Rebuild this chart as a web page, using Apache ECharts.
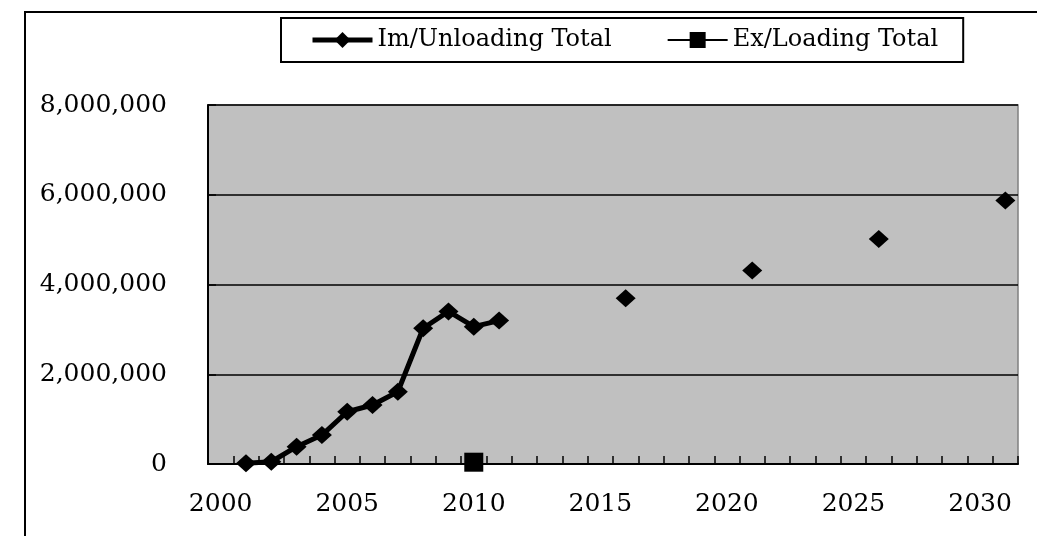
<!DOCTYPE html>
<html>
<head>
<meta charset="utf-8">
<script src="https://cdn.jsdelivr.net/npm/echarts@6/dist/echarts.min.js"></script>
<style>
html,body{margin:0;padding:0;background:#fff;}
#chart{width:1037px;height:536px;}
</style>
</head>
<body>
<div id="chart"></div>
<script>
// Category axis (years)
const categories = ['2000','2001','2002','2003','2004','2005','2006','2007','2008','2009','2010',
  '2011','2012','2013','2014','2015','2016','2017','2018','2019','2020','2021','2022','2023',
  '2024','2025','2026','2027','2028','2029','2030','2031'];

// Im/Unloading Total
const imYears  = ['2001','2002','2003','2004','2005','2006','2007','2008','2009','2010','2011','2016','2021','2026','2031'];
const imValues = [15000, 50000, 385000, 645000, 1165000, 1315000, 1610000, 3025000, 3400000, 3060000, 3195000, 3695000, 4310000, 5015000, 5870000];

// Ex/Loading Total
const exYears  = ['2010'];
const exValues = [40000];

const yTicks = [0, 2000000, 4000000, 6000000, 8000000];

function align(years, values) {
  return categories.map(c => {
    const i = years.indexOf(c);
    return i >= 0 ? values[i] : null;
  });
}

const FONT = 'DejaVu Serif';
const diamond = 'path://M0,-1L1,0L0,1L-1,0Z';

const chart = echarts.init(document.getElementById('chart'), null, {renderer: 'canvas'});
chart.setOption({
  animation: false,
  backgroundColor: '#ffffff',
  graphic: [{
    type: 'rect',
    shape: {x: 25, y: 12, width: 1100, height: 700},
    style: {fill: 'none', stroke: '#000', lineWidth: 2},
    silent: true, z: -1
  }],
  legend: {
    left: 281, top: 18,
    orient: 'horizontal',
    borderColor: '#000', borderWidth: 2,
    padding: [10, 25, 10, 29],
    itemGap: 55,
    itemWidth: 60, itemHeight: 20,
    textStyle: {fontFamily: FONT, fontSize: 24, color: '#000'},
    data: [
      {name: 'Im/Unloading Total', lineStyle: {width: 5, color: '#000'}},
      {name: 'Ex/Loading Total', lineStyle: {width: 2, color: '#000'}}
    ]
  },
  grid: {
    left: 208, right: 19, top: 105, bottom: 72,
    show: true, backgroundColor: '#C0C0C0', borderColor: '#808080', borderWidth: 1.5,
    containLabel: false
  },
  xAxis: {
    type: 'category',
    data: categories,
    boundaryGap: true,
    axisLine: {lineStyle: {color: '#000', width: 2}},
    axisTick: {show: true, inside: true, length: 8, interval: 0, alignWithLabel: false, lineStyle: {color: '#000', width: 1.5}},
    axisLabel: {interval: 4, margin: 28, fontFamily: FONT, fontSize: 25, color: '#000'},
    splitLine: {show: false}
  },
  yAxis: {
    type: 'value',
    min: yTicks[0], max: yTicks[yTicks.length - 1], interval: yTicks[1] - yTicks[0],
    axisLine: {show: true, lineStyle: {color: '#000', width: 2}},
    axisTick: {show: true, inside: true, length: 8, lineStyle: {color: '#000', width: 1.5}},
    axisLabel: {
      margin: 41, fontFamily: FONT, fontSize: 25, color: '#000',
      formatter: v => v.toLocaleString('en-US')
    },
    splitLine: {show: true, lineStyle: {color: '#000', width: 1.5}}
  },
  series: [
    {
      name: 'Im/Unloading Total',
      type: 'line',
      data: align(imYears, imValues),
      connectNulls: false,
      showAllSymbol: true,
      symbol: diamond,
      symbolSize: [20, 18],
      lineStyle: {color: '#000', width: 5},
      itemStyle: {color: '#000'},
      z: 3
    },
    {
      name: 'Ex/Loading Total',
      type: 'line',
      data: align(exYears, exValues),
      connectNulls: false,
      showAllSymbol: true,
      symbol: 'rect',
      symbolSize: 19,
      lineStyle: {color: '#000', width: 2},
      itemStyle: {color: '#000'},
      z: 4
    }
  ]
});
</script>
</body>
</html>
